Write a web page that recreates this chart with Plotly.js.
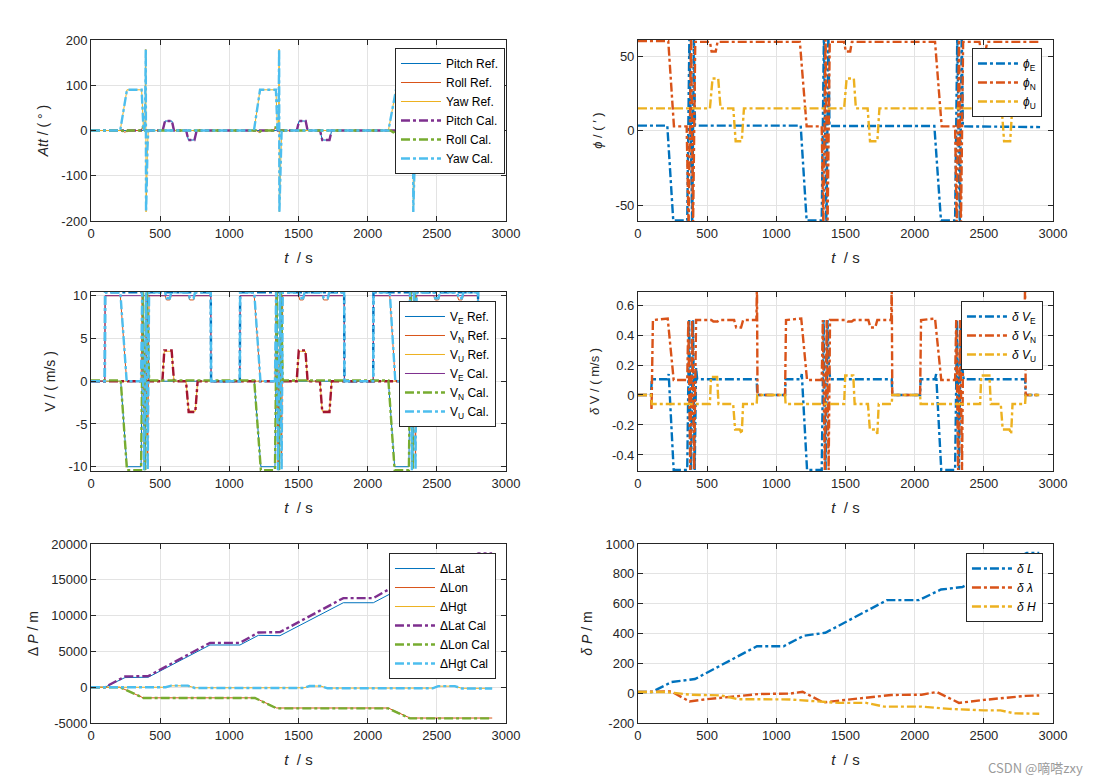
<!DOCTYPE html>
<html><head><meta charset="utf-8">
<script src="https://cdn.plot.ly/plotly-3.0.1.min.js"></script>
<style>html,body{margin:0;padding:0;background:#fff;}#chart{width:1099px;height:782px;}</style>
</head><body><div id="chart"></div>
<script>
// ---------- Subplot 1: attitude ----------
const tYaw = [0,211,260,366,380,390,396,398,403,408,414, 1178,1222,1337,1348,1356,1360,1362,1367,1372,1378, 2150,2205,2300,2312,2322,2328,2330,2335,2340,2346, 2900];
const yaw  = [0,0,90,90,0,10,180,-180,-120,-40,0, 0,90,90,0,10,180,-180,-120,-40,0, 0,90,90,0,10,180,-180,-120,-40,0, 0];
const tPitch = [0,518,535,585,600,688,704,748,764, 1488,1504,1552,1566,1656,1672,1724,1740, 2460,2476,2524,2540,2626,2642,2690,2706, 2900];
const pitch  = [0,0,21,21,0,0,-21,-21,0, 0,21,21,0,0,-21,-21,0, 0,21,21,0,0,-21,-21,0, 0];
const tRoll = [0,225,245,265,360,375,390,410, 1195,1215,1235,1320,1335,1350,1370, 2165,2185,2205,2290,2305,2320,2340, 2900];
const roll  = [0,0,-4,0,0,8,0,0, 0,-4,0,0,8,0,0, 0,-4,0,0,8,0,0, 0];

// ---------- Subplot 2: phi ----------
const tPhiE = [0,212,255,356,372,392,404,412, 1176,1219,1328,1344,1362,1376,1384, 2142,2190,2292,2308,2326,2340,2348, 2906];
const phiE  = [3.5,3.5,-60,-60,65,-65,65,3.5, 3.5,-60,-60,65,-65,65,3.2, 3.2,-60,-60,65,-65,65,3, 2.5];
const tPhiN = [0,219,260,352,366,384,398,414, 520,532,562,575, 1170,1219,1328,1340,1356,1370,1386, 1490,1502,1534,1546, 2147,2195,2292,2304,2320,2334,2350, 2468,2480,2512,2524, 2900];
const phiN  = [60,60,3,3,-65,65,-65,59.5, 59.5,53,53,59.5, 59.5,3,3,-65,65,-65,59.5, 59.5,53,53,59.5, 59.5,3,3,-65,65,-65,59.5, 59.5,53,53,59.5, 59.5];
const tPhiU = [0,520,539,580,597,689,706,750,766, 1490,1508,1560,1575,1660,1677,1730,1745, 2470,2488,2535,2550,2629,2646,2690,2705, 2900];
const phiU  = [15,15,35,35,15,15,-7,-7,15, 15,35,35,15,15,-7,-7,15, 15,35,35,15,15,-7,-7,15, 15];

// ---------- Subplot 3: velocity ----------
const tVel = [0,100,102,866,868,1076,1078,1830,1832,2040,2042,2798,2800,2900];
const vSpd = [0,0,10.4,10.4,0,0,10.4,10.4,0,0,10.4,10.4,0,0];
const vECal = [0,0,10,10,0,0,10,10,0,0,10,10,0,0];
const tVU = [0,100,102,212,258,362,370,384,398,410,420, 536,546,570,580,704,714,742,752, 866,868,1076,1078, 1180,1225,1330,1338,1352,1366,1378,1386, 1500,1510,1534,1544,1672,1682,1712,1722, 1830,1832,2040,2042, 2160,2200,2298,2306,2320,2334,2346,2354, 2478,2488,2512,2522,2648,2658,2682,2692, 2798,2800,2900];
const vUCal = [0,0,10.4,10.4,0,0,10.4,-10.4,10.4,-10.4,10.4, 10.4,9.7,9.7,10.4,10.4,9.7,9.7,10.4, 10.4,0,0,10.4, 10.4,0,0,10.4,-10.4,10.4,-10.4,10.4, 10.4,9.7,9.7,10.4,10.4,9.7,9.7,10.4, 10.4,0,0,10.4, 10.4,0,0,10.4,-10.4,10.4,-10.4,10.4, 10.4,9.7,9.7,10.4,10.4,9.7,9.7,10.4, 10.4,0,0];
const vNRef = [0,0,10,10,0,0,10,-10,10,-10,10, 10,9.5,9.5,10,10,9.5,9.5,10, 10,0,0,10, 10,0,0,10,-10,10,-10,10, 10,9.5,9.5,10,10,9.5,9.5,10, 10,0,0,10, 10,0,0,10,-10,10,-10,10, 10,9.5,9.5,10,10,9.5,9.5,10, 10,0,0];
const tVN = [0,215,260,362,376,392,406,420, 1180,1228,1330,1344,1360,1374,1386, 2150,2195,2298,2312,2326,2340,2352,2900];
const vNCal = [0.1,0.1,-10.4,-10.4,10.4,-10.4,10.4,0.1, 0.1,-10.4,-10.4,10.4,-10.4,10.4,0.1, 0.1,-10.4,-10.4,10.4,-10.4,10.4,0.1,0.1];
const vERef = [0,0,-10,-10,10,-10,10,0, 0,-10,-10,10,-10,10,0, 0,-10,-10,10,-10,10,0,0];
const tVZ = [0,516,530,583,600,687,706,754,771, 1487,1502,1550,1566,1655,1672,1724,1740, 2460,2476,2524,2540,2626,2642,2690,2706, 2900];
const vZCal = [0,0,3.6,3.6,0,0,-3.6,-3.6,0, 0,3.6,3.6,0,0,-3.6,-3.6,0, 0,3.6,3.6,0,0,-3.6,-3.6,0, 0];
const vURef = [0,0,3.5,3.5,0,0,-3.5,-3.5,0, 0,3.5,3.5,0,0,-3.5,-3.5,0, 0,3.5,3.5,0,0,-3.5,-3.5,0, 0];

// ---------- Subplot 4: velocity error ----------
const tdVE = [0,94,100,212,222,258,356,370,384,398,410,420,428, 858,862,1063,1067, 1176,1184,1222,1328,1342,1356,1370,1380,1390, 1834,1838,2039,2043, 2147,2155,2192,2292,2306,2320,2334,2344,2354, 2798,2802,2900];
const dVE  = [0,0,0.105,0.105,0.14,-0.5,-0.5,0.5,-0.5,0.5,-0.5,0.18,0.105, 0.105,0,0,0.105, 0.105,0.14,-0.5,-0.5,0.5,-0.5,0.5,0.18,0.105, 0.105,0,0,0.105, 0.105,0.14,-0.5,-0.5,0.5,-0.5,0.5,0.18,0.105, 0.105,0,0];
const tdVN = [0,94,98,108,215,258,356,364,378,392,406,420, 530,545,575,590,695,710,745,760, 856,860,864,1063,1070, 1180,1222,1328,1336,1350,1364,1378,1388, 1500,1515,1545,1560,1665,1680,1715,1730, 1830,1834,1838,2039,2046, 2147,2192,2292,2300,2314,2328,2342,2352, 2470,2485,2515,2530,2635,2650,2685,2700, 2794,2798,2802,2900];
const dVN  = [0,0,-0.1,0.5,0.51,0.1,0.1,0.5,-0.5,0.5,-0.5,0.5, 0.5,0.49,0.49,0.5,0.5,0.45,0.45,0.5, 0.5,0.75,0,0,0.5, 0.51,0.1,0.1,0.5,-0.5,0.5,-0.5,0.5, 0.5,0.49,0.49,0.5,0.5,0.45,0.45,0.5, 0.5,0.75,0,0,0.5, 0.51,0.1,0.1,0.5,-0.5,0.5,-0.5,0.5, 0.5,0.49,0.49,0.5,0.5,0.45,0.45,0.5, 0.5,0.75,0,0];
const tdVU = [0,94,100,520,528,572,582,688,702,736,750,760, 858,862,1063,1067, 1490,1498,1556,1566,1662,1676,1720,1730,1740, 1834,1838,2039,2043, 2473,2481,2540,2550,2622,2636,2685,2697,2707, 2798,2802,2900];
const dVU  = [0,0,-0.06,-0.06,0.12,0.12,-0.06,-0.06,-0.23,-0.23,-0.26,-0.06, -0.06,0,0,-0.06, -0.06,0.13,0.13,-0.06,-0.06,-0.23,-0.23,-0.26,-0.06, -0.06,0,0,-0.06, -0.06,0.13,0.13,-0.06,-0.06,-0.23,-0.23,-0.26,-0.06, -0.06,0,0];

// ---------- Subplot 5: position change ----------
const tLat = [0,100,246,414,860,1077,1210,1366,1824,2041,2174,2330,2800,2900];
const latRef = [0,0,1350,1400,5900,5900,7250,7200,11800,11800,13150,13200,17900,17900];
const latCal = [0,0,1500,1550,6200,6200,7650,7700,12450,12450,13900,13950,18700,18700];
const tLon = [0,209,378,1185,1342,2149,2306,2900];
const lonRef = [0,0,-1480,-1480,-2900,-2900,-4300,-4300];
const lonCal = [0,0,-1500,-1500,-2950,-2950,-4350,-4350];
const tHgt = [0,540,580,700,750,1540,1580,1660,1710,2470,2510,2630,2680,2900];
const hgtRef = [0,0,200,200,-80,-80,160,160,-120,-120,150,150,-150,-150];
const hgtCal = [0,0,220,220,-100,-100,170,170,-150,-150,160,160,-180,-180];

// ---------- Subplot 6: position error ----------
const tdL = [0,100,243,412,860,1053,1198,1354,1800,2030,2190,2345,2810,2900];
const dL  = [8,8,75,95,315,315,385,405,624,624,695,712,940,940];
const tdLam = [0,240,372,500,880,1100,1190,1340,1500,1830,2050,2160,2320,2500,2800,2900];
const dLam  = [8,12,-55,-40,-5,-3,10,-62,-45,-12,-10,8,-65,-45,-18,-15];
const tdH = [0,200,380,600,720,1100,1300,1450,1650,1780,2050,2250,2500,2620,2720,2900];
const dH  = [8,8,-10,-15,-40,-42,-55,-65,-65,-90,-90,-105,-115,-115,-135,-138];

// ---------- tick labels ----------
const xTicks = [0,500,1000,1500,2000,2500,3000];
const xTickText = ['0','500','1000','1500','2000','2500','3000'];
const y1Ticks = [-200,-100,0,100,200], y1Text = ['-200','-100','0','100','200'];
const y2Ticks = [-50,0,50], y2Text = ['-50','0','50'];
const y3Ticks = [-10,-5,0,5,10], y3Text = ['-10','-5','0','5','10'];
const y4Ticks = [-0.4,-0.2,0,0.2,0.4,0.6], y4Text = ['-0.4','-0.2','0','0.2','0.4','0.6'];
const y5Ticks = [-5000,0,5000,10000,15000,20000], y5Text = ['-5000','0','5000','10000','15000','20000'];
const y6Ticks = [-200,0,200,400,600,800,1000], y6Text = ['-200','0','200','400','600','800','1000'];

const C = {blue:'#0072BD', orange:'#D95319', yellow:'#EDB120', purple:'#7E2F8E', green:'#77AC30', cyan:'#4DBEEE', red:'#A2142F'};
const FONT = '"Liberation Sans", Arial, Helvetica, sans-serif';

function ln(x, y, color, w, dash, name, k, show) {
  return {type:'scatter', mode:'lines', x:x, y:y, name:name,
    xaxis: k===1?'x':'x'+k, yaxis: k===1?'y':'y'+k,
    legend: k===1?'legend':'legend'+k, showlegend: show,
    line:{color:color, width:w, dash:dash}, hoverinfo:'skip'};
}
const TH = 1, TK = 2.4, DD = 'dashdot';
const traces = [
  ln(tPitch, pitch, C.blue, TH, 'solid', 'Pitch Ref.', 1, true),
  ln(tRoll, roll, C.orange, TH, 'solid', 'Roll Ref.', 1, true),
  ln(tYaw, yaw, C.yellow, TH, 'solid', 'Yaw Ref.', 1, true),
  ln(tPitch, pitch, C.purple, TK, DD, 'Pitch Cal.', 1, true),
  ln(tRoll, roll, C.green, TK, DD, 'Roll Cal.', 1, true),
  ln(tYaw, yaw, C.cyan, TK, DD, 'Yaw Cal.', 1, true),

  ln(tPhiE, phiE, C.blue, TK, DD, '<i>ϕ</i><sub>E</sub>', 2, true),
  ln(tPhiN, phiN, C.orange, TK, DD, '<i>ϕ</i><sub>N</sub>', 2, true),
  ln(tPhiU, phiU, C.yellow, TK, DD, '<i>ϕ</i><sub>U</sub>', 2, true),

  ln(tVN, vERef, C.blue, TH, 'solid', 'V<sub>E</sub> Ref.', 3, true),
  ln(tVU, vNRef, C.orange, TH, 'solid', 'V<sub>N</sub> Ref.', 3, true),
  ln(tVZ, vURef, C.yellow, TH, 'solid', 'V<sub>U</sub> Ref.', 3, true),
  ln(tVel, vECal, C.purple, TH, 'solid', 'V<sub>E</sub> Cal.', 3, true),
  ln(tVel, vSpd, C.blue, TK, DD, 'V', 3, false),
  ln(tVZ, vZCal, C.red, TK, DD, 'V', 3, false),
  ln(tVN, vNCal, C.green, TK, DD, 'V<sub>N</sub> Cal.', 3, true),
  ln(tVU, vUCal, C.cyan, TK, DD, 'V<sub>U</sub> Cal.', 3, true),

  ln(tdVE, dVE, C.blue, TK, DD, '<i>δ V</i><sub>E</sub>', 4, true),
  ln(tdVN, dVN, C.orange, TK, DD, '<i>δ V</i><sub>N</sub>', 4, true),
  ln(tdVU, dVU, C.yellow, TK, DD, '<i>δ V</i><sub>U</sub>', 4, true),

  ln(tLat, latRef, C.blue, TH, 'solid', 'ΔLat', 5, true),
  ln(tLon, lonRef, C.orange, TH, 'solid', 'ΔLon', 5, true),
  ln(tHgt, hgtRef, C.yellow, TH, 'solid', 'ΔHgt', 5, true),
  ln(tLat, latCal, C.purple, TK, DD, 'ΔLat Cal', 5, true),
  ln(tLon, lonCal, C.green, TK, DD, 'ΔLon Cal', 5, true),
  ln(tHgt, hgtCal, C.cyan, TK, DD, 'ΔHgt Cal', 5, true),

  ln(tdL, dL, C.blue, TK, DD, '<i>δ L</i>', 6, true),
  ln(tdLam, dLam, C.orange, TK, DD, '<i>δ λ</i>', 6, true),
  ln(tdH, dH, C.yellow, TK, DD, '<i>δ H</i>', 6, true)
];

const XL = [0.0828, 0.4604], XR = [0.5805, 0.9582];
const R1 = [0.7174, 0.9488], R2 = [0.3977, 0.6266], R3 = [0.0754, 0.3043];
function axis(domain, range, tv, tt, title, anchor, tsize, standoff) {
  return {domain:domain, range:range, tickmode:'array', tickvals:tv, ticktext:tt,
    showline:true, linecolor:'#262626', linewidth:1, mirror:'ticks',
    ticks:'inside', ticklen:5, tickcolor:'#262626', tickwidth:1,
    showgrid:true, gridcolor:'#e3e3e3', gridwidth:1, zeroline:false,
    tickfont:{family:FONT, size:13, color:'#262626'},
    title:{text:title, font:{family:FONT, size:tsize||14, color:'#262626'}, standoff:standoff},
    anchor:anchor, fixedrange:true};
}
const xt = '<i>t</i>  / s';
function leg(xr, yt) {
  return {x:xr, y:yt, xanchor:'right', yanchor:'top', bgcolor:'#ffffff', bordercolor:'#262626',
    borderwidth:1, font:{family:FONT, size:12, color:'#000'}, itemwidth:40, traceorder:'normal'};
}
const layout = {
  width:1099, height:782, margin:{l:0, r:0, t:0, b:0}, paper_bgcolor:'#fff', plot_bgcolor:'#fff',
  xaxis: axis(XL, [0,3000], xTicks, xTickText, xt, 'y', 15, 12),
  yaxis: axis(R1, [-200,200], y1Ticks, y1Text, '<i>Att</i> / ( ° )', 'x', 14, 9),
  xaxis2: axis(XR, [0,3000], xTicks, xTickText, xt, 'y2', 15, 12),
  yaxis2: axis(R1, [-60.3,60.7], y2Ticks, y2Text, '<i>ϕ</i> / ( ′ )', 'x2', 13, 10),
  xaxis3: axis(XL, [0,3000], xTicks, xTickText, xt, 'y3', 15, 12),
  yaxis3: axis(R2, [-10.5,10.43], y3Ticks, y3Text, 'V / ( m/s )', 'x3', 14, 9),
  xaxis4: axis(XR, [0,3000], xTicks, xTickText, xt, 'y4', 15, 12),
  yaxis4: axis(R2, [-0.507,0.687], y4Ticks, y4Text, '<i>δ</i> V / ( m/s )', 'x4', 13, 9),
  xaxis5: axis(XL, [0,3000], xTicks, xTickText, xt, 'y5', 15, 12),
  yaxis5: axis(R3, [-5000,20000], y5Ticks, y5Text, 'Δ <i>P</i> / m', 'x5', 14, 9),
  xaxis6: axis(XR, [0,3000], xTicks, xTickText, xt, 'y6', 15, 12),
  yaxis6: axis(R3, [-200,1000], y6Ticks, y6Text, '<i>δ P</i> / m', 'x6', 14, 9),
  legend: leg(0.4595, 0.9386),
  legend2: leg(0.9481, 0.9386),
  legend3: leg(0.4513, 0.6151),
  legend4: leg(0.9490, 0.6151),
  legend5: leg(0.4513, 0.2928),
  legend6: leg(0.9490, 0.2928),
  annotations:[{xref:'paper', yref:'paper', x:0.987, y:0.004, xanchor:'right', yanchor:'bottom',
    text:'CSDN @嘀嗒zxy', showarrow:false,
    font:{family:'"Noto Sans CJK SC", "Liberation Sans", sans-serif', size:13, color:'#9a9a9a'}}],
  showlegend:true
};
Plotly.newPlot('chart', traces, layout, {displayModeBar:false, staticPlot:true});
</script></body></html>
